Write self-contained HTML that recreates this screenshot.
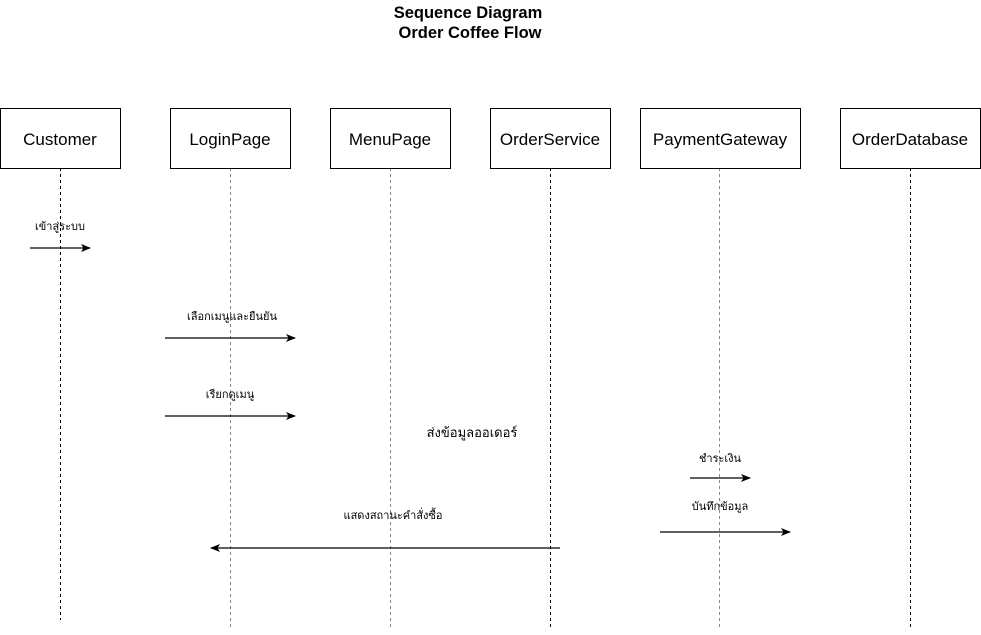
<!DOCTYPE html>
<html><head><meta charset="utf-8"><style>
body{margin:0;background:#fff;width:981px;height:630px;overflow:hidden}
</style></head><body>
<svg width="981" height="630" xmlns="http://www.w3.org/2000/svg" font-family="Liberation Sans, DejaVu Sans, sans-serif">
<defs><marker id="a" markerWidth="10" markerHeight="8" refX="9" refY="4" orient="auto" markerUnits="userSpaceOnUse"><path d="M0,0 L10,4 L0,8 L2.5,4 Z" fill="#000"/></marker></defs>
<text x="468" y="18" font-size="16.5" font-weight="bold" text-anchor="middle">Sequence Diagram</text>
<text x="470" y="38" font-size="16.5" font-weight="bold" text-anchor="middle">Order Coffee Flow</text>
<g stroke-dasharray="3,3" stroke-width="1">
<line x1="60.5" y1="168" x2="60.5" y2="620" stroke="#000"/>
<line x1="230.5" y1="168" x2="230.5" y2="630" stroke="#888"/>
<line x1="390.5" y1="168" x2="390.5" y2="630" stroke="#888"/>
<line x1="550.5" y1="168" x2="550.5" y2="630" stroke="#000"/>
<line x1="719.5" y1="168" x2="719.5" y2="630" stroke="#888"/>
<line x1="910.5" y1="168" x2="910.5" y2="630" stroke="#000"/>
</g>
<g fill="#fff" stroke="#000">
<rect x="0.5" y="108.5" width="120" height="60"/>
<rect x="170.5" y="108.5" width="120" height="60"/>
<rect x="330.5" y="108.5" width="120" height="60"/>
<rect x="490.5" y="108.5" width="120" height="60"/>
<rect x="640.5" y="108.5" width="160" height="60"/>
<rect x="840.5" y="108.5" width="140" height="60"/>
</g>
<g font-size="17" text-anchor="middle">
<text x="60" y="145">Customer</text>
<text x="230" y="145">LoginPage</text>
<text x="390" y="145">MenuPage</text>
<text x="550" y="145">OrderService</text>
<text x="720" y="145">PaymentGateway</text>
<text x="910" y="145">OrderDatabase</text>
</g>
<g stroke="#000" stroke-width="1.2" marker-end="url(#a)">
<line x1="30" y1="248" x2="90" y2="248"/>
<line x1="165" y1="338" x2="295" y2="338"/>
<line x1="165" y1="416" x2="295" y2="416"/>
<line x1="690" y1="478" x2="750" y2="478"/>
<line x1="660" y1="532" x2="790" y2="532"/>
<line x1="560" y1="548" x2="211" y2="548"/>
</g>
<g font-size="11" text-anchor="middle">
<text x="60" y="230">เข้าสู่ระบบ</text>
<text x="232" y="320">เลือกเมนูและยืนยัน</text>
<text x="230" y="398">เรียกดูเมนู</text>
<text x="472" y="437" font-size="13">ส่งข้อมูลออเดอร์</text>
<text x="720" y="462">ชำระเงิน</text>
<text x="720" y="510">บันทึกข้อมูล</text>
<text x="393" y="519">แสดงสถานะคำสั่งซื้อ</text>
</g>
</svg>
</body></html>
